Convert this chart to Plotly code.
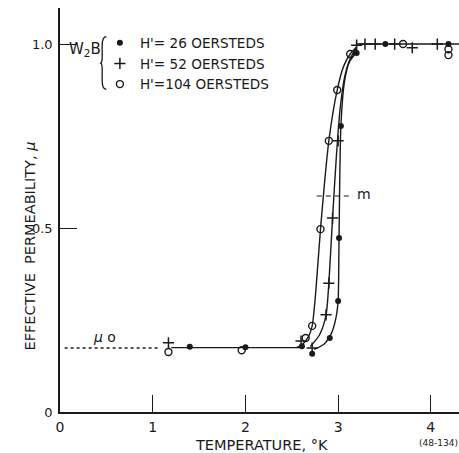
import plotly.graph_objects as go

# ---- data ----
# H' = 26 Oe (filled circles)
t26 = [1.40, 2.00, 2.61, 2.72, 2.91, 3.00, 3.01, 3.03, 3.20, 3.51, 4.19]
mu26 = [0.177, 0.176, 0.179, 0.158, 0.201, 0.302, 0.473, 0.777, 0.976, 1.0, 1.0]
# H' = 52 Oe (plus)
t52 = [1.17, 2.60, 2.72, 2.87, 2.90, 2.94, 3.00, 3.20, 3.29, 3.40, 3.61, 3.80, 4.07]
mu52 = [0.188, 0.193, 0.174, 0.264, 0.350, 0.527, 0.737, 0.997, 1.0, 1.0, 1.0, 0.99, 1.0]
# H' = 104 Oe (open circles)
t104 = [1.17, 1.96, 2.65, 2.72, 2.81, 2.90, 2.99, 3.13, 3.70, 4.19, 4.19]
mu104 = [0.163, 0.168, 0.201, 0.234, 0.497, 0.737, 0.875, 0.973, 1.0, 0.986, 0.970]

# drawn curves
c26_t = [2.74, 2.85, 2.93, 2.98, 3.00, 3.01, 3.03, 3.07, 3.12, 3.20]
c26_mu = [0.170, 0.185, 0.215, 0.260, 0.302, 0.473, 0.777, 0.900, 0.950, 0.978]
c52_t = [2.70, 2.80, 2.87, 2.90, 2.94, 2.98, 3.02, 3.07, 3.13, 3.20]
c52_mu = [0.178, 0.210, 0.264, 0.350, 0.527, 0.690, 0.820, 0.910, 0.960, 0.990]
c104_t = [2.55, 2.62, 2.68, 2.72, 2.76, 2.81, 2.90, 2.99, 3.06, 3.13, 3.20]
c104_mu = [0.175, 0.185, 0.205, 0.234, 0.330, 0.497, 0.737, 0.875, 0.940, 0.973, 0.992]
base_t = [1.20, 2.62]
base_mu = [0.175, 0.175]
mu0_t = [0.05, 1.08]
mu0_mu = [0.174, 0.174]
top_t = [3.20, 4.32]
top_mu = [1.0, 1.0]
m_t = [2.77, 3.16]
m_mu = [0.587, 0.587]

xticks = [0, 1, 2, 3, 4]
xticktext = ["0", "1", "2", "3", "4"]
yticks = [0, 0.5, 1.0]
yticktext = ["0", "0.5", "1.0"]

INK = "#1a1a1a"
FONT = "DejaVu Sans, Liberation Sans, sans-serif"

fig = go.Figure()
line_style = dict(color=INK, width=1.4)

for tt, mm in [(c26_t, c26_mu), (c52_t, c52_mu), (c104_t, c104_mu), (base_t, base_mu), (top_t, top_mu)]:
    fig.add_trace(go.Scatter(x=tt, y=mm, mode="lines",
                             line=dict(line_style, shape="spline", smoothing=0.7),
                             showlegend=False, hoverinfo="skip"))
fig.add_trace(go.Scatter(x=mu0_t, y=mu0_mu, mode="lines", line=dict(color=INK, width=1.6, dash="dot"),
                         showlegend=False, hoverinfo="skip"))
fig.add_trace(go.Scatter(x=m_t, y=m_mu, mode="lines", line=dict(color=INK, width=1.1, dash="5px,4px"),
                         showlegend=False, hoverinfo="skip"))

fig.add_trace(go.Scatter(x=t26, y=mu26, mode="markers", name="H'= 26 OERSTEDS",
                         marker=dict(symbol="circle", size=6, color=INK)))
fig.add_trace(go.Scatter(x=t52, y=mu52, mode="markers", name="H'= 52 OERSTEDS",
                         marker=dict(symbol="cross-thin", size=8, color=INK,
                                     line=dict(color=INK, width=1.5))))
fig.add_trace(go.Scatter(x=t104, y=mu104, mode="markers", name="H'=104 OERSTEDS",
                         marker=dict(symbol="circle-open", size=7, color=INK,
                                     line=dict(color=INK, width=1.4))))

fig.update_layout(
    width=459, height=453,
    margin=dict(l=60, r=0, t=8, b=41),
    paper_bgcolor="white", plot_bgcolor="white",
    font=dict(family=FONT, size=14, color=INK),
    showlegend=True,
    legend=dict(x=0.10, y=0.952, xanchor="left", yanchor="top",
                bgcolor="rgba(0,0,0,0)", font=dict(size=13.6), tracegroupgap=0,
                itemwidth=30),
    xaxis=dict(range=[0, 4.304], showgrid=False, zeroline=False, showline=True,
               linecolor=INK, linewidth=1.5, ticks="inside", ticklen=17,
               tickwidth=1.3, tickcolor=INK, tickvals=xticks, ticktext=xticktext,
               tickfont=dict(size=14), ticklabelstandoff=1),
    xaxis2=dict(range=[0, 4.304], overlaying="x", side="top", anchor="y",
                showgrid=False, zeroline=False, showline=True, linecolor=INK,
                linewidth=1.5, ticks="inside", ticklen=17, tickwidth=1.3,
                tickcolor=INK, tickvals=xticks[1:], showticklabels=False),
    yaxis=dict(range=[0, 1.098], showgrid=False, zeroline=False, showline=True,
               linecolor=INK, linewidth=1.5, ticks="inside", ticklen=17,
               tickwidth=1.3, tickcolor=INK, tickvals=yticks, ticktext=yticktext,
               tickfont=dict(size=13), ticklabelstandoff=3),
)

ann = [
    dict(text="EFFECTIVE  PERMEABILITY, <i>μ</i>", xref="paper", yref="y", x=-0.075, y=0.45,
         textangle=-90, showarrow=False, font=dict(size=14.5), xanchor="center", yanchor="middle"),
    dict(text="TEMPERATURE, °K", xref="x", yref="paper", x=2.17, y=-0.082,
         showarrow=False, font=dict(size=14.5), xanchor="center", yanchor="middle"),
    dict(text="(48-134)", xref="x", yref="paper", x=4.08, y=-0.077,
         showarrow=False, font=dict(size=9), xanchor="center", yanchor="middle"),
    dict(text="<i>μ</i> o", xref="x", yref="y", x=0.48, y=0.205,
         showarrow=False, font=dict(size=14), xanchor="center", yanchor="middle"),
    dict(text="m", xref="x", yref="y", x=3.28, y=0.592,
         showarrow=False, font=dict(size=14), xanchor="center", yanchor="middle"),
    dict(text="W<sub>2</sub>B", xref="x", yref="y", x=0.27, y=0.985,
         showarrow=False, font=dict(size=15), xanchor="center", yanchor="middle"),
]
fig.update_layout(annotations=ann)

# brace
fig.add_shape(type="path", xref="x", yref="y",
              path="M 0.50,1.02 Q 0.455,1.02 0.455,0.995 L 0.455,0.965 Q 0.455,0.95 0.44,0.948 "
                   "Q 0.455,0.946 0.455,0.93 L 0.455,0.90 Q 0.455,0.877 0.50,0.877",
              line=dict(color=INK, width=1.3))

fig.write_html("out.html", config={"displayModeBar": False},
               post_script="document.body.style.margin='0';document.body.style.overflow='hidden';")
